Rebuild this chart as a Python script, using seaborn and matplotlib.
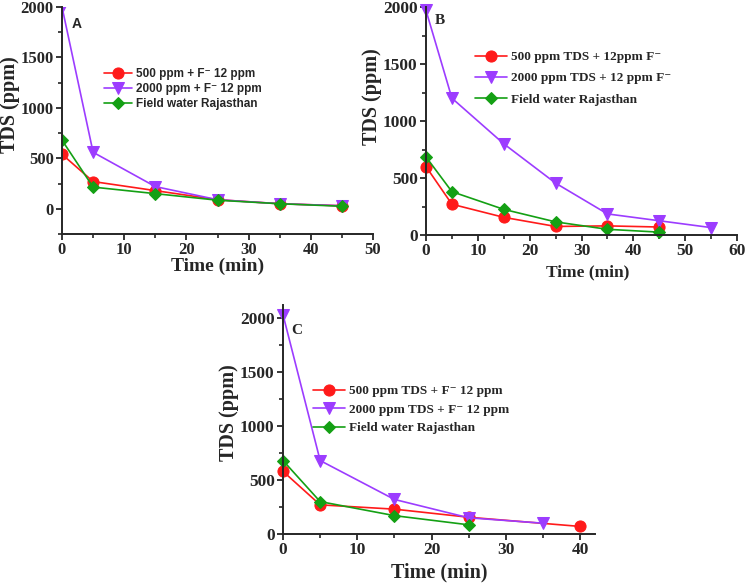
import seaborn as sns
import matplotlib.pyplot as plt
from matplotlib.ticker import MultipleLocator

# Panel A
a_time = [0, 5, 15, 25, 35, 45]
a_500 = [540, 270, 180, 90, 50, 30]
a_2000 = [2000, 560, 220, 90, 50, 30]
a_field = [680, 215, 150, 85, 50, 25]

# Panel B
b_time = [0, 5, 15, 25, 35, 45]
b_time_2000 = [0, 5, 15, 25, 35, 45, 55]
b_500 = [600, 270, 155, 75, 80, 70]
b_2000 = [1970, 1200, 800, 455, 185, 125, 65]
b_field = [685, 380, 225, 115, 50, 25]

# Panel C
c_time_500 = [0, 5, 15, 25, 40]
c_time_2000 = [0, 5, 15, 25, 35]
c_time_field = [0, 5, 15, 25]
c_500 = [580, 270, 230, 155, 70]
c_2000 = [2030, 680, 320, 150, 100]
c_field = [680, 300, 170, 85]

RED = "#ff1a1a"
PURPLE = "#9c3cff"
GREEN = "#14a014"

sns.set_style("ticks")
plt.rcParams["font.family"] = ["Liberation Serif", "DejaVu Serif"]
plt.rcParams["font.weight"] = "bold"
plt.rcParams["axes.labelweight"] = "bold"
plt.rcParams["axes.linewidth"] = 1.4
plt.rcParams["xtick.direction"] = "out"
plt.rcParams["ytick.direction"] = "out"

fig = plt.figure(figsize=(7.46, 5.85), dpi=100)
W, H = 746, 585


def make_axes(left, top, right, bottom):
    return fig.add_axes([left / W, 1 - bottom / H, (right - left) / W, (bottom - top) / H])


def draw(ax, x, y, color, marker, ms, label):
    sns.lineplot(x=x, y=y, ax=ax, color=color, marker=marker, markersize=ms,
                 markeredgecolor=color, linewidth=1.2, label=label, sort=False,
                 estimator=None, clip_on=False)


def style_axes(ax, xmax, xstep, ylim, tick_fs):
    sns.despine(ax=ax)
    ax.set_xlim(0, xmax)
    ax.set_ylim(*ylim)
    ax.xaxis.set_major_locator(MultipleLocator(xstep))
    ax.xaxis.set_minor_locator(MultipleLocator(xstep / 2))
    ax.yaxis.set_major_locator(MultipleLocator(500))
    ax.yaxis.set_minor_locator(MultipleLocator(250))
    ax.tick_params(which="major", length=4, width=1.3, labelsize=tick_fs, pad=2)
    ax.tick_params(which="minor", length=3, width=1.2)
    for lab in ax.get_xticklabels() + ax.get_yticklabels():
        lab.set_fontweight("bold")


# ---- A ----
axA = make_axes(62, 7, 373, 234)
draw(axA, a_time, a_500, RED, "o", 8, "500 ppm + F\u207b 12 ppm")
draw(axA, a_time, a_2000, PURPLE, "v", 9, "2000 ppm + F\u207b 12 ppm")
draw(axA, a_time, a_field, GREEN, "D", 6, "Field water Rajasthan")
style_axes(axA, 50, 10, (-250, 2000), 12)
for ln in axA.lines:
    ln.set_clip_on(True)
axA.set_xlabel("Time (min)", fontsize=14)
axA.set_ylabel("TDS (ppm)", fontsize=14.5)
axA.xaxis.set_label_coords(0.5, -0.105)
axA.yaxis.set_label_coords(-0.135, 0.57)
axA.legend(loc="upper left", bbox_to_anchor=(104 / W, 1 - 68 / H), bbox_transform=fig.transFigure,
           frameon=False, borderpad=0, borderaxespad=0, handlelength=2.4, handletextpad=0.3,
           labelspacing=0.25, prop={"family": ["Liberation Sans", "DejaVu Sans"], "weight": "bold", "size": 8.5})
axA.text(77 / W, 1 - 24 / H, "A", transform=fig.transFigure, ha="center", va="center",
         family="Liberation Sans", fontweight="bold", fontsize=10)

# ---- B ----
axB = make_axes(426, 7, 737, 235)
draw(axB, b_time, b_500, RED, "o", 8, "500 ppm TDS + 12ppm F\u207b")
draw(axB, b_time_2000, b_2000, PURPLE, "v", 9, "2000 ppm TDS + 12 ppm F\u207b")
draw(axB, b_time, b_field, GREEN, "D", 6, "Field water Rajasthan")
style_axes(axB, 60, 10, (0, 2000), 12.5)
axB.set_xlabel("Time (min)", fontsize=12.5)
axB.set_ylabel("TDS (ppm)", fontsize=14.5)
axB.xaxis.set_label_coords(0.52, -0.13)
axB.yaxis.set_label_coords(-0.141, 0.605)
axB.legend(loc="upper left", bbox_to_anchor=(475 / W, 1 - 51 / H), bbox_transform=fig.transFigure,
           frameon=False, borderpad=0, borderaxespad=0, handlelength=2.4, handletextpad=0.3,
           labelspacing=0.68, prop={"family": ["Liberation Serif", "DejaVu Serif"], "weight": "bold", "size": 9.5})
axB.text(440 / W, 1 - 21 / H, "B", transform=fig.transFigure, ha="center", va="center",
         fontweight="bold", fontsize=11)

# ---- C ----
axC = make_axes(283, 305, 595, 534)
draw(axC, c_time_500, c_500, RED, "o", 8, "500 ppm TDS + F\u207b 12 ppm")
draw(axC, c_time_2000, c_2000, PURPLE, "v", 9, "2000 ppm TDS + F\u207b 12 ppm")
draw(axC, c_time_field, c_field, GREEN, "D", 6, "Field water Rajasthan")
style_axes(axC, 42, 10, (0, 2120), 12.5)
axC.set_xlabel("Time (min)", fontsize=14.5)
axC.set_ylabel("TDS (ppm)", fontsize=14.5)
axC.xaxis.set_label_coords(0.5, -0.125)
axC.yaxis.set_label_coords(-0.14, 0.53)
axC.legend(loc="upper left", bbox_to_anchor=(313 / W, 1 - 385 / H), bbox_transform=fig.transFigure,
           frameon=False, borderpad=0, borderaxespad=0, handlelength=2.4, handletextpad=0.3,
           labelspacing=0.48, prop={"family": ["Liberation Serif", "DejaVu Serif"], "weight": "bold", "size": 9.5})
axC.text(297 / W, 1 - 331 / H, "C", transform=fig.transFigure, ha="center", va="center",
         fontweight="bold", fontsize=11)

fig.savefig("out.png", dpi=100)
